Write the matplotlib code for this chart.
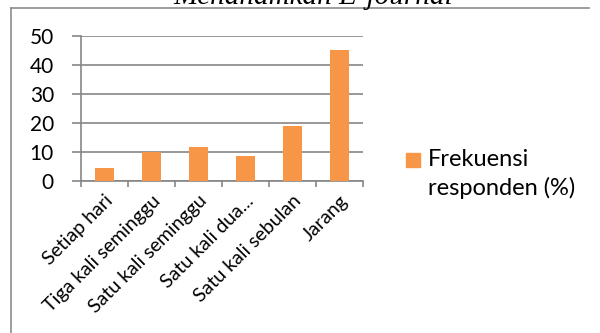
import matplotlib
matplotlib.use("Agg")
import matplotlib.pyplot as plt
from matplotlib.patches import Rectangle
from matplotlib.lines import Line2D

categories = ["Setiap hari", "Tiga kali seminggu", "Satu kali seminggu",
              "Satu kali dua...", "Satu kali sebulan", "Jarang"]
values = [4.4, 9.9, 11.7, 8.7, 19.0, 45.2]
series_label = ["Frekuensi", "responden (%)"]
yticks = [0, 10, 20, 30, 40, 50]
title_text = "Menanamkan E-journal"

W, H = 600, 333
fig = plt.figure(figsize=(W / 100, H / 100), dpi=100)
fig.patch.set_facecolor("white")
plt.rcParams["font.family"] = ["Lato", "DejaVu Sans"]

bar_color = "#F79646"
grid_color = "#868686"

def fx(px):
    return px / W

def fy(py):
    return 1 - py / H

# outer chart border (left and top visible)
fig.add_artist(Line2D([fx(11), fx(11)], [fy(7.5), 0], color="#8c8c8c", lw=1.2))
fig.add_artist(Line2D([fx(11), fx(589)], [fy(7.5), fy(7.5)], color="#8c8c8c", lw=1.2))

# cut-off caption above the chart (only its lower edge shows, as in the reference)
fig.text(fx(313), fy(3.5), title_text, ha="center", va="baseline",
         family="Liberation Serif", style="italic", fontsize=21, color="black")

ax = fig.add_axes([fx(81), fy(181), fx(362.7) - fx(81), fy(35.7) - fy(181)])
x = list(range(len(categories)))
ax.bar(x, values, width=0.4, color=bar_color, zorder=3)
ax.set_xlim(-0.5, len(categories) - 0.5)
ax.set_ylim(0, 50)

for s in ["top", "right"]:
    ax.spines[s].set_visible(False)
for s in ["left", "bottom"]:
    ax.spines[s].set_color(grid_color)
    ax.spines[s].set_linewidth(1.2)

ax.set_yticks(yticks)
ax.set_yticklabels([str(v) for v in yticks], fontsize=15)
ax.yaxis.grid(True, color=grid_color, lw=1.2, zorder=0)
ax.tick_params(axis="y", length=6.5, width=1.2, color=grid_color, pad=13)

ax.set_xticks([i - 0.5 for i in range(len(categories) + 1)])
ax.set_xticklabels([])
ax.tick_params(axis="x", which="major", length=4.5, width=1.2, color=grid_color)
ax.set_xticks(x, minor=True)
ax.set_xticklabels(categories, minor=True, rotation=45, ha="right",
                   rotation_mode="anchor", fontsize=14)
ax.tick_params(axis="x", which="minor", length=0, pad=8)
ax.set_axisbelow(True)

# legend
fig.add_artist(Rectangle((fx(406), fy(167)), fx(420) - fx(406), fy(153) - fy(167),
                         color=bar_color, transform=fig.transFigure))
fig.text(fx(428), fy(166), series_label[0], fontsize=17, va="baseline", ha="left")
fig.text(fx(428), fy(195), series_label[1], fontsize=17, va="baseline", ha="left")

fig.savefig("out.png", dpi=100)
